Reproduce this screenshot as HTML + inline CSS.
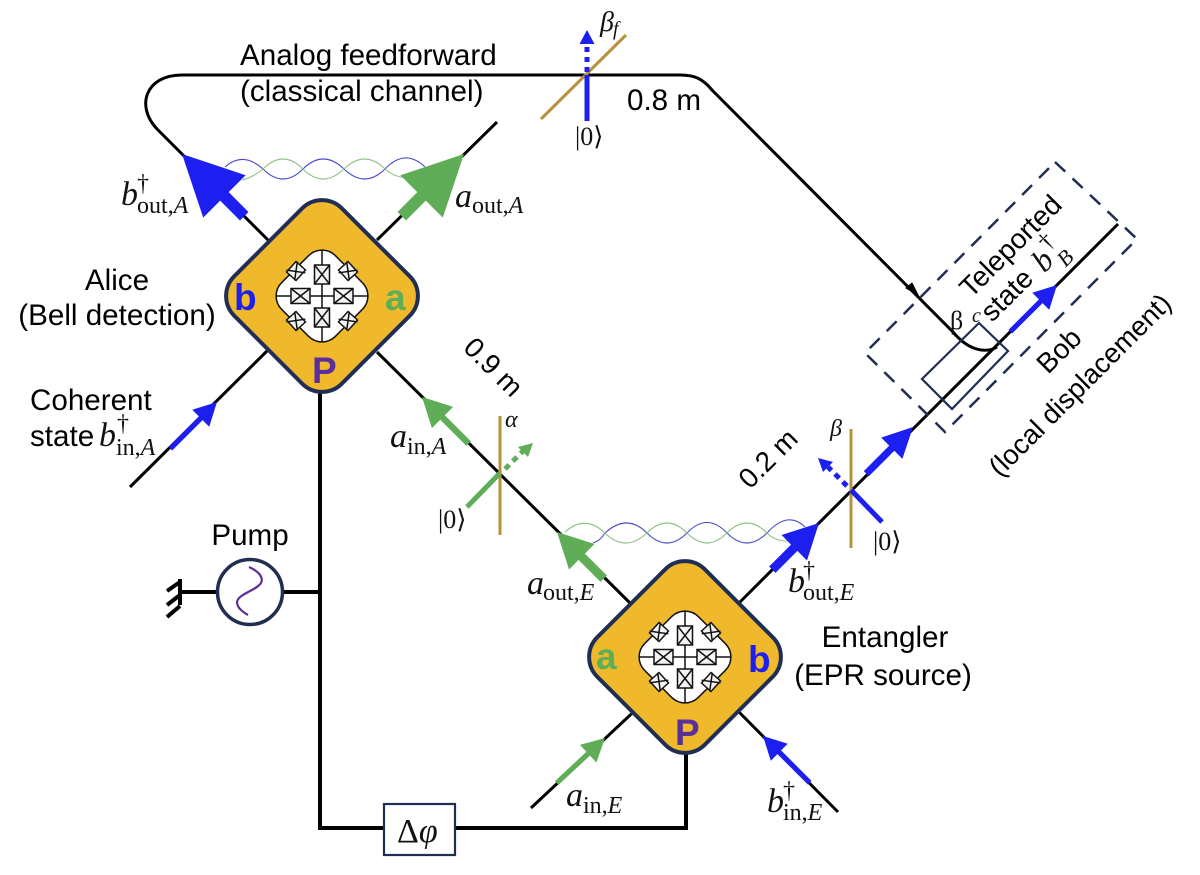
<!DOCTYPE html>
<html><head><meta charset="utf-8"><style>
html,body{margin:0;padding:0;background:#fff}
svg{display:block}
.s{font-family:"Liberation Sans",sans-serif;font-size:29.6px;fill:#000}
.r{font-size:28px}
.m{font-family:"Liberation Serif","DejaVu Serif",serif;font-style:italic;font-size:34px;fill:#111}
.u{font-family:"Liberation Serif","DejaVu Serif",serif;font-size:24px;fill:#111}
.i{font-style:italic}
.d{font-family:"Liberation Serif",serif;font-size:26px;fill:#111}
.k{font-family:"Liberation Sans",sans-serif;font-weight:bold;font-size:37px}
.w{fill:none;stroke:#000;stroke-width:3}
.g{fill:none;stroke:#b8913d;stroke-width:3}
</style></head><body>
<svg width="1200" height="875" viewBox="0 0 1200 875" xmlns="http://www.w3.org/2000/svg">
<defs>
<g id="core">
<rect x="-38" y="-38" width="76" height="76" rx="19" transform="rotate(45)" fill="#fff" stroke="#111" stroke-width="1.5"/>
<path d="M-46,0H46M0,-46V46" stroke="#111" stroke-width="1.5"/>
<g fill="#f4f4f4" stroke="#111" stroke-width="1.5">
<g id="bx"><rect x="-31" y="-7.5" width="19" height="15"/><path d="M-31,-7.5L-12,7.5M-31,7.5L-12,-7.5" fill="none"/></g>
<use href="#bx" transform="rotate(90)"/><use href="#bx" transform="rotate(180)"/><use href="#bx" transform="rotate(270)"/>
<g id="sm"><path d="M-26,-34.5 L-16.5,-26 L-26,-15.5 L-35.5,-24Z"/><path d="M-26,-34.5V-15.5M-35.5,-24.5H-16.5" fill="none" transform="rotate(8 -26 -25)"/></g>
<use href="#sm" transform="scale(-1,1)"/><use href="#sm" transform="scale(1,-1)"/><use href="#sm" transform="scale(-1,-1)"/>
</g>
</g>
<polygon id="big" points="0,0 -60,30 -60,6 -88,6 -88,-6 -60,-6 -60,-30"/>
<polygon id="mid" points="0,0 -35,18 -35,4.5 -66,4.5 -66,-4.5 -35,-4.5 -35,-18"/>
<polygon id="gmid" points="0,0 -29,15 -29,3.2 -66,3.2 -66,-3.2 -29,-3.2 -29,-15"/>
<polygon id="bob" points="0,0 -30,15 -30,3.6 -66,3.6 -66,-3.6 -30,-3.6 -30,-15"/>
<polygon id="thin" points="0,0 -23,12 -23,2.6 -66,2.6 -66,-2.6 -23,-2.6 -23,-12"/>
</defs>

<!-- waves -->
<g fill="none" stroke-width="1.1">
<path stroke="#4a4ad0" d="M225,167 Q243,151 263,169 Q283,189 303,169 Q323,149 344,169 Q365,189 385,169 Q405,148 425,167"/>
<path stroke="#8fc18a" d="M242,180 Q252,178 263,169 Q283,149 303,169 Q323,189 344,169 Q365,149 385,169 Q395,178 410,178"/>
<path stroke="#4a4ad0" d="M593,543 Q600,541 605,533 Q627,513 647,533 Q667,553 687,533 Q707,512 727,533 Q747,553 767,533 Q788,510 805,527"/>
<path stroke="#8fc18a" d="M565,532 Q585,514 605,533 Q625,553 647,533 Q667,513 687,533 Q707,553 727,533 Q747,513 767,533 Q775,541 787,541"/>
</g>

<!-- wires -->
<g class="w">
<path d="M268,240 L158,130 C135,107 145,75 182,75 L680,75 C695,75 703,79 712,90 L953,332 C968,350 985,354 997,347"/>
<path d="M377,240 L497,122"/>
<path d="M130,487 L270,348"/>
<path d="M377,352 L630,603"/>
<path d="M739,603 L1118,224"/>
<path d="M531,808 L643,703"/>
<path d="M838,812 L730,703"/>
</g>
<g fill="none" stroke="#000" stroke-width="4">
<path d="M320,390 V828 H383 M455,828 H686 V750"/>
<path d="M180,592 H217 M283,592 H320"/>
<path d="M180,579 V605 M167,591 L180,582 M167,605 L180,595 M167,617 L180,606"/>
</g>
<polygon points="918,295 906,288 912,283" fill="#000" stroke="#000" stroke-width="1"/>

<!-- beam splitters -->
<path class="g" d="M541,119 L626,35 M500,416 V535 M851,429 V548"/>

<!-- dashed box and rect -->
<polygon points="1055,162 1137,239 945,432 865,353" fill="none" stroke="#1f2e52" stroke-width="2.5" stroke-dasharray="14 10"/>
<polygon points="979,323 1008,351 952,409 922,379" fill="none" stroke="#1f2e52" stroke-width="2.2"/>

<!-- diamonds -->
<g fill="#f0b92c" stroke="#1f2e52" stroke-width="4">
<rect x="-76" y="-76" width="152" height="152" rx="28" transform="translate(322,296) rotate(45)"/>
<rect x="-76" y="-76" width="152" height="152" rx="28" transform="translate(685,657) rotate(45)"/>
</g>
<use href="#core" transform="translate(322,296)"/>
<use href="#core" transform="translate(685,657)"/>

<!-- arrows -->
<use href="#big" fill="#1c1fef" transform="translate(182,154) rotate(225)"/>
<use href="#big" fill="#5fad56" transform="translate(464,154) rotate(-45)"/>
<use href="#mid" fill="#5fad56" transform="translate(557,532) rotate(225)"/>
<use href="#mid" fill="#1c1fef" transform="translate(819,523) rotate(-45)"/>
<use href="#gmid" fill="#5fad56" transform="translate(422,397) rotate(225)"/>
<use href="#bob" fill="#1c1fef" transform="translate(913,427) rotate(-45)"/>
<use href="#thin" fill="#1c1fef" transform="translate(1057,285) rotate(-45)"/>
<use href="#thin" fill="#1c1fef" transform="translate(217,402) rotate(-45)"/>
<use href="#thin" fill="#5fad56" transform="translate(605,738) rotate(-43)"/>
<use href="#thin" fill="#1c1fef" transform="translate(763,736) rotate(225)"/>

<!-- vacuum arrows -->
<path d="M587,121 V75" stroke="#1c1fef" stroke-width="5" fill="none"/>
<path d="M587,72 V46" stroke="#1c1fef" stroke-width="5" fill="none" stroke-dasharray="5 5"/>
<polygon points="587,30 594.5,44 579.5,44" fill="#1c1fef"/>
<path d="M467,507 L500,473" stroke="#5fad56" stroke-width="5" fill="none"/>
<path d="M505,469 L523,451" stroke="#5fad56" stroke-width="5" fill="none" stroke-dasharray="6 5"/>
<polygon points="533,443 528,457 518,447" fill="#5fad56"/>
<path d="M882,522 L851,490" stroke="#1c1fef" stroke-width="5" fill="none"/>
<path d="M847,486 L828,467" stroke="#1c1fef" stroke-width="5" fill="none" stroke-dasharray="6 5"/>
<polygon points="818,458 833,462 823,472" fill="#1c1fef"/>

<!-- pump -->
<circle cx="250" cy="592" r="32.5" fill="#fff" stroke="#1f2e52" stroke-width="3.5"/>
<path d="M249,567 C258,571 264,577 261,583 C257,590 238,594 237,602 C237,608 243,612 248,615" fill="none" stroke="#5b2f9a" stroke-width="2.2"/>
<rect x="384" y="804" width="71" height="51" fill="#fff" stroke="#1f2e52" stroke-width="2.2"/>
<text x="397" y="842" font-family="Liberation Serif,serif" font-size="34" fill="#111">Δ<tspan font-style="italic">φ</tspan></text>

<!-- key letters -->
<text class="k" x="234" y="310" fill="#1c1fef">b</text>
<text class="k" x="385" y="310" fill="#5fad56">a</text>
<text class="k" x="312" y="383" fill="#5b2f9a">P</text>
<text class="k" x="596" y="669" fill="#5fad56">a</text>
<text class="k" x="748" y="672" fill="#1c1fef">b</text>
<text class="k" x="675" y="745" fill="#5b2f9a">P</text>

<!-- text -->
<text class="s" x="240" y="65">Analog feedforward</text>
<text class="s" x="240" y="101">(classical channel)</text>
<text class="s" x="627" y="110">0.8 m</text>
<text class="s" x="117" y="290" text-anchor="middle">Alice</text>
<text class="s" x="117" y="325" text-anchor="middle">(Bell detection)</text>
<text class="s" x="30" y="410">Coherent</text>
<text class="s" x="30" y="446">state</text>
<text class="s" x="250" y="545" text-anchor="middle">Pump</text>
<text class="s" x="885" y="647" text-anchor="middle">Entangler</text>
<text class="s" x="883" y="685" text-anchor="middle">(EPR source)</text>
<text class="s r" transform="translate(462,349) rotate(45)">0.9 m</text>
<text class="s r" transform="translate(750,490) rotate(-45)">0.2 m</text>
<text class="s r" transform="translate(971,299) rotate(-45)">Teleported</text>
<g transform="translate(992,323) rotate(-45)">
<text class="s r" x="0" y="0">state</text>
<text class="m" x="72" y="2" style="font-size:32px">b</text>
<text class="u" x="90" y="-12">†</text>
<text class="u i" x="91" y="13" style="font-size:22px">B</text>
</g>
<text class="s r" transform="translate(1048,375) rotate(-45)">Bob</text>
<text class="s" style="font-size:27.5px" transform="translate(1000,478) rotate(-45)">(local displacement)</text>

<!-- math labels -->
<text class="m" x="121" y="205">b</text><text class="u" x="137" y="191">†</text><text class="u" x="137" y="213">out,<tspan class="i">A</tspan></text>
<text class="m" x="455" y="207">a</text><text class="u" x="472" y="213">out,<tspan class="i">A</tspan></text>
<text class="m" x="99" y="446">b</text><text class="u" x="117" y="431">†</text><text class="u" x="116" y="455">in,<tspan class="i">A</tspan></text>
<text class="m" x="390" y="447">a</text><text class="u" x="407" y="454">in,<tspan class="i">A</tspan></text>
<text class="m" x="527" y="594">a</text><text class="u" x="543" y="600">out,<tspan class="i">E</tspan></text>
<text class="m" x="788" y="592">b</text><text class="u" x="803" y="578">†</text><text class="u" x="803" y="600">out,<tspan class="i">E</tspan></text>
<text class="m" x="566" y="806">a</text><text class="u" x="583" y="813">in,<tspan class="i">E</tspan></text>
<text class="m" x="767" y="812">b</text><text class="u" x="783" y="798">†</text><text class="u" x="783" y="820">in,<tspan class="i">E</tspan></text>

<!-- small greek -->
<text class="m" x="600" y="31" style="font-size:28px">β</text><text class="u i" x="613" y="35" style="font-size:20px">f</text>
<text class="m" x="950" y="329" style="font-size:26px;font-style:normal">β</text><text class="u i" x="972" y="322" style="font-size:20px">c</text>
<text class="m" x="505" y="427" style="font-size:24px">α</text>
<text class="m" x="830" y="436" style="font-size:24px">β</text>
<text class="d" x="575" y="145">|0⟩</text>
<text class="d" x="438" y="528">|0⟩</text>
<text class="d" x="873" y="550">|0⟩</text>
</svg>
</body></html>
